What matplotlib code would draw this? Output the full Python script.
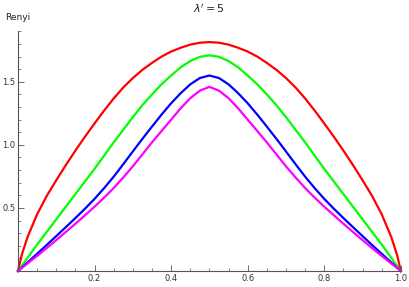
import matplotlib.pyplot as plt
from matplotlib.ticker import MultipleLocator, FixedLocator

# left half of the curves (the plot is symmetric about 0.5)
x_half = [0.0, 0.01, 0.025, 0.05, 0.075, 0.1, 0.125, 0.15, 0.175, 0.2, 0.225,
          0.25, 0.275, 0.3, 0.325, 0.35, 0.375, 0.4, 0.425, 0.45, 0.475, 0.5]

red_half = [0.0, 0.13, 0.27, 0.45, 0.595, 0.72, 0.84, 0.955, 1.065, 1.17, 1.272,
            1.368, 1.455, 1.53, 1.595, 1.65, 1.70, 1.74, 1.77, 1.795, 1.81, 1.815]
green_half = [0.0, 0.04, 0.105, 0.21, 0.31, 0.41, 0.51, 0.61, 0.71, 0.81, 0.915,
              1.02, 1.12, 1.22, 1.315, 1.40, 1.48, 1.55, 1.615, 1.665, 1.698, 1.71]
blue_half = [0.0, 0.027, 0.068, 0.137, 0.206, 0.277, 0.348, 0.42, 0.494, 0.572, 0.657,
             0.748, 0.847, 0.948, 1.048, 1.145, 1.24, 1.33, 1.41, 1.48, 1.53, 1.55]
magenta_half = [0.0, 0.024, 0.06, 0.12, 0.182, 0.245, 0.31, 0.375, 0.442, 0.51, 0.582,
                0.658, 0.742, 0.83, 0.925, 1.02, 1.11, 1.20, 1.29, 1.37, 1.43, 1.46]

# mirror to the right half
x = x_half + [round(1.0 - v, 3) for v in x_half[-2::-1]]
red = red_half + red_half[-2::-1]
green = green_half + green_half[-2::-1]
blue = blue_half + blue_half[-2::-1]
magenta = magenta_half + magenta_half[-2::-1]

series = [(red, "#ff0000"), (green, "#00ff00"), (blue, "#0000ff"), (magenta, "#ff00ff")]

fig = plt.figure(figsize=(4.09, 2.87), dpi=100)
ax = fig.add_axes([0.044, 0.0557, 0.936, 0.835])

for y, c in series:
    ax.plot(x, y, color=c, lw=1.6, clip_on=False, solid_joinstyle="round")

ax.set_xlim(0, 1.0)
ax.set_ylim(0, 1.9)

for s in ["top", "right"]:
    ax.spines[s].set_visible(False)
for s in ["left", "bottom"]:
    ax.spines[s].set_color("#555555")
    ax.spines[s].set_linewidth(0.8)

ax.xaxis.set_major_locator(FixedLocator([0.2, 0.4, 0.6, 0.8, 1.0]))
ax.xaxis.set_minor_locator(MultipleLocator(0.05))
ax.yaxis.set_major_locator(FixedLocator([0.5, 1.0, 1.5]))
ax.yaxis.set_minor_locator(MultipleLocator(0.1))
ax.set_xticklabels(["0.2", "0.4", "0.6", "0.8", "1.0"])
ax.set_yticklabels(["0.5", "1.0", "1.5"])

ax.tick_params(which="major", direction="in", length=4, width=0.6, color="#555555",
               labelsize=6, labelcolor="#333333", pad=2)
ax.tick_params(which="minor", direction="in", length=2.2, width=0.5, color="#555555")

fig.text(0.512, 0.972, r"$\lambda' = 5$", ha="center", va="center", fontsize=8, color="#222222")
fig.text(0.012, 0.94, "Renyi", ha="left", va="center", fontsize=6.5, color="#222222")

fig.savefig("out.png", dpi=100)
